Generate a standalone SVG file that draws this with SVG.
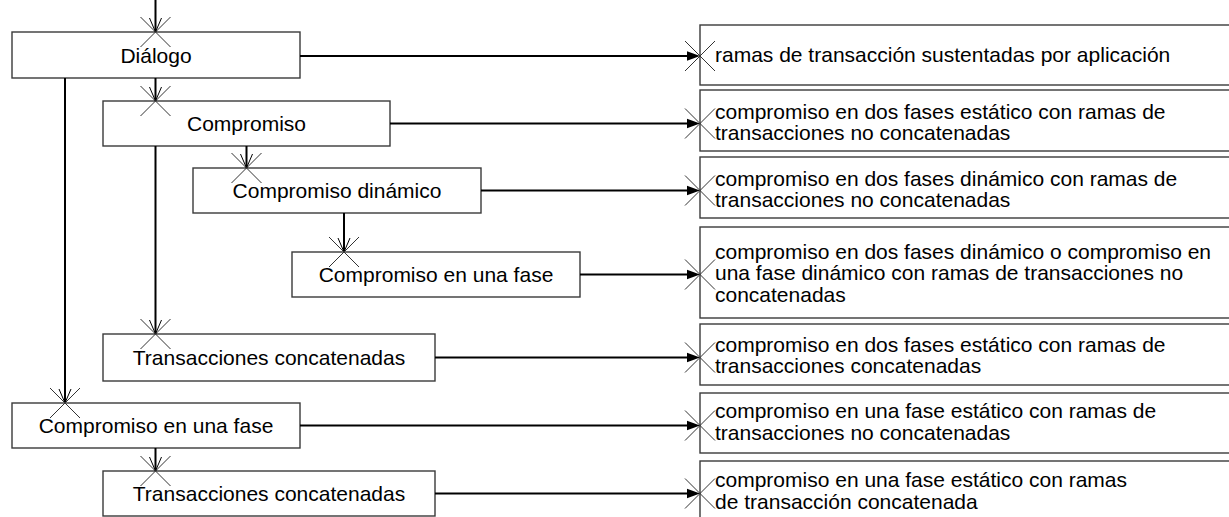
<svg xmlns="http://www.w3.org/2000/svg" width="1229" height="517" viewBox="0 0 1229 517">
<style>
.box{fill:#fff;stroke:#3a3a3a;stroke-width:1.4}
.t{font-family:"Liberation Sans",Arial,sans-serif;font-size:21px;fill:#000}
.c{text-anchor:middle}
.edge{stroke:#000;stroke-width:2;fill:none}
.x{stroke:#333;stroke-width:1;fill:none}
.v{stroke:#000;stroke-width:1;fill:none}
.ah{fill:#000}
</style>
<rect width="1229" height="517" fill="#fff"/>
<g id="n-dialogo"><rect class="box" x="12" y="32" width="288" height="46"/><text class="t c" x="156" y="63">Diálogo</text></g>
<g id="n-compromiso"><rect class="box" x="103" y="101" width="287" height="45"/><text class="t c" x="246.5" y="130.5">Compromiso</text></g>
<g id="n-dinamico"><rect class="box" x="193" y="168" width="288" height="45"/><text class="t c" x="337" y="198">Compromiso dinámico</text></g>
<g id="n-cef1"><rect class="box" x="292" y="252" width="288" height="45"/><text class="t c" x="436" y="282">Compromiso en una fase</text></g>
<g id="n-trans1"><rect class="box" x="103" y="334" width="332" height="47"/><text class="t c" x="269" y="365">Transacciones concatenadas</text></g>
<g id="n-cef2"><rect class="box" x="12" y="403" width="288" height="45"/><text class="t c" x="156" y="433">Compromiso en una fase</text></g>
<g id="n-trans2"><rect class="box" x="103" y="471" width="332" height="45"/><text class="t c" x="269" y="501">Transacciones concatenadas</text></g>

<g id="r1"><rect class="box" x="700" y="25" width="540" height="60"/><text class="t" x="715" y="62">ramas de transacción sustentadas por aplicación</text></g>
<g id="r2"><rect class="box" x="700" y="90" width="540" height="61"/><text class="t" x="715" y="118.5">compromiso en dos fases estático con ramas de</text><text class="t" x="715" y="140">transacciones no concatenadas</text></g>
<g id="r3"><rect class="box" x="700" y="157" width="540" height="61"/><text class="t" x="715" y="185.5">compromiso en dos fases dinámico con ramas de</text><text class="t" x="715" y="207">transacciones no concatenadas</text></g>
<g id="r4"><rect class="box" x="700" y="227" width="540" height="91"/><text class="t" x="715" y="258.5">compromiso en dos fases dinámico o compromiso en</text><text class="t" x="715" y="280">una fase dinámico con ramas de transacciones no</text><text class="t" x="715" y="301.5">concatenadas</text></g>
<g id="r5"><rect class="box" x="700" y="324" width="540" height="61"/><text class="t" x="715" y="351.5">compromiso en dos fases estático con ramas de</text><text class="t" x="715" y="373">transacciones concatenadas</text></g>
<g id="r6"><rect class="box" x="700" y="393" width="540" height="60"/><text class="t" x="715" y="418">compromiso en una fase estático con ramas de</text><text class="t" x="715" y="440">transacciones no concatenadas</text></g>
<g id="r7"><rect class="box" x="700" y="461" width="540" height="70"/><text class="t" x="715" y="487">compromiso en una fase estático con ramas</text><text class="t" x="715" y="509">de transacción concatenada</text></g>

<g id="connectors">
<path class="edge" d="M155.5 0V32M155.5 78V101M65 78V403M246.5 146V168M155.5 146V334M344 213V252M155.5 448V471"/>
<path class="v" d="M149.5 18L155.5 32L161.5 18M149.5 87L155.5 101L161.5 87M59 389L65 403L71 389M240.5 154L246.5 168L252.5 154M149.5 320L155.5 334L161.5 320M338 238L344 252L350 238M149.5 457L155.5 471L161.5 457"/>
<path class="x" d="M140.5 17L170.5 47M170.5 17L140.5 47M140.5 86L170.5 116M170.5 86L140.5 116M50 388L80 418M80 388L50 418M231.5 153L261.5 183M261.5 153L231.5 183M140.5 319L170.5 349M170.5 319L140.5 349M329 237L359 267M359 237L329 267M140.5 456L170.5 486M170.5 456L140.5 486"/>
<path class="edge" d="M300 56H688M390 123.5H688M481 190.5H688M580 274.5H688M435 357.5H688M300 425.5H688M435 493.5H688"/>
<g class="ah">
<path d="M700 56l-13-4.8v9.6z"/><path d="M700 123.5l-13-4.8v9.6z"/><path d="M700 190.5l-13-4.8v9.6z"/><path d="M700 274.5l-13-4.8v9.6z"/><path d="M700 357.5l-13-4.8v9.6z"/><path d="M700 425.5l-13-4.8v9.6z"/><path d="M700 493.5l-13-4.8v9.6z"/>
</g>
<path class="x" d="M685 41l30 30M715 41l-30 30M685 108.5l30 30M715 108.5l-30 30M685 175.5l30 30M715 175.5l-30 30M685 259.5l30 30M715 259.5l-30 30M685 342.5l30 30M715 342.5l-30 30M685 410.5l30 30M715 410.5l-30 30M685 478.5l30 30M715 478.5l-30 30"/>
</g>
</svg>
